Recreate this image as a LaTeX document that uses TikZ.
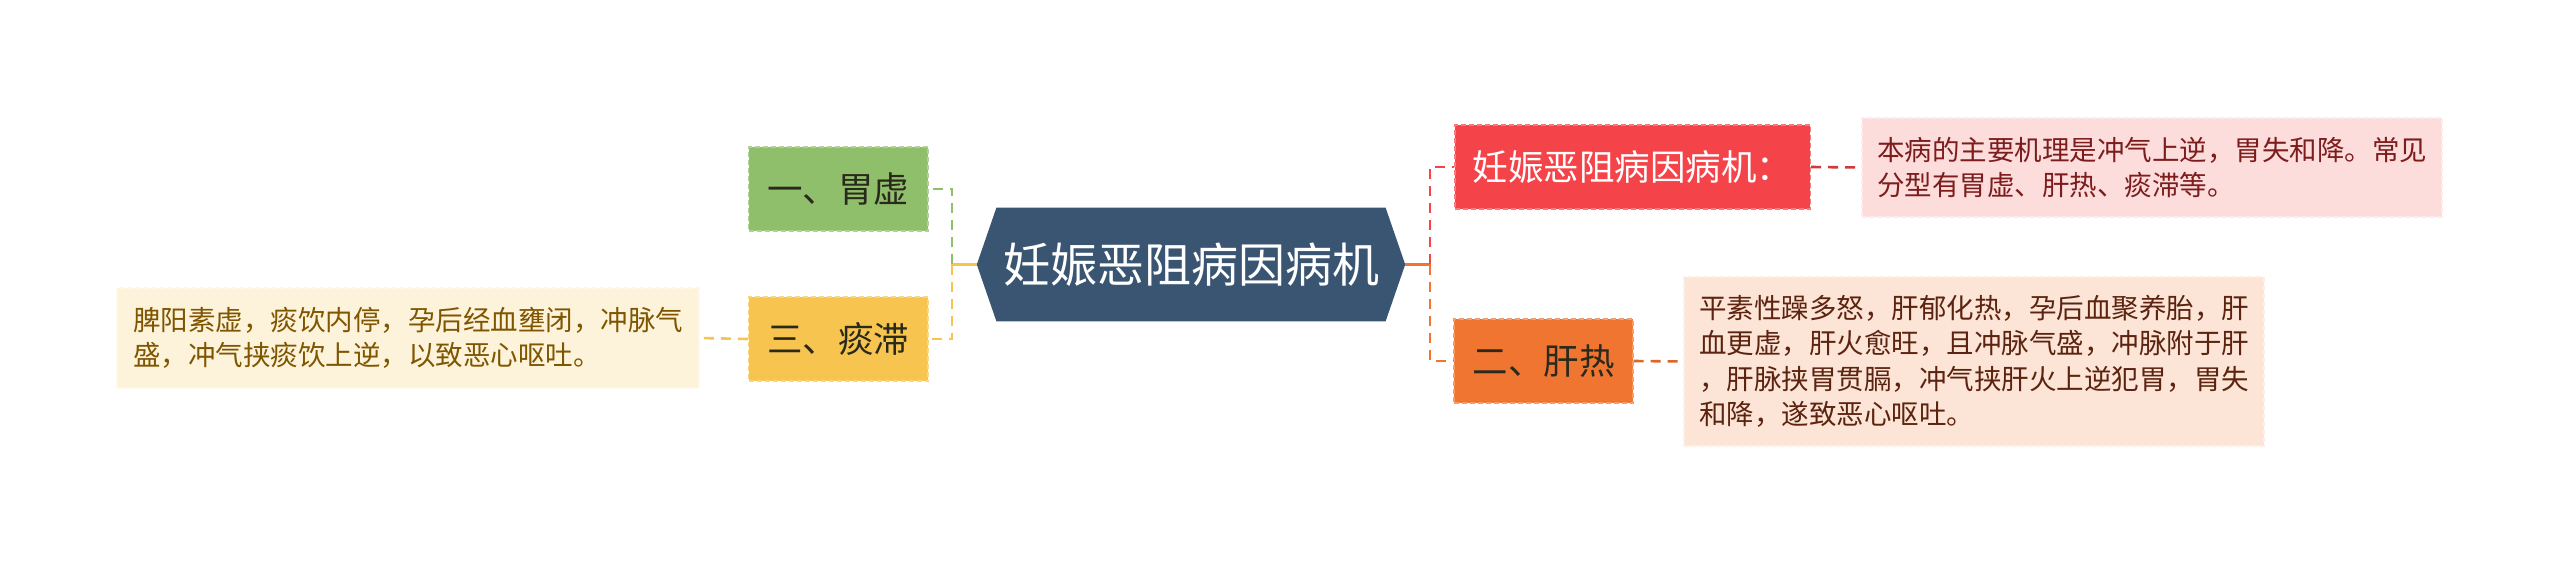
\documentclass[tikz,border=0pt]{standalone}
\usepackage{fontspec}
\newfontfamily\cjk{Noto Sans CJK SC}
\usetikzlibrary{backgrounds}
\definecolor{hexc}{HTML}{3A5572}
\definecolor{grn}{HTML}{90BF6B}
\definecolor{yel}{HTML}{F7C44F}
\definecolor{redc}{HTML}{F4444A}
\definecolor{orn}{HTML}{F07530}
\definecolor{pinkbg}{HTML}{FDDCDC}
\definecolor{peachbg}{HTML}{FCE4D6}
\definecolor{creambg}{HTML}{FDF3DB}
\definecolor{pinktx}{HTML}{7D1C1C}
\definecolor{peachtx}{HTML}{5C2410}
\definecolor{creamtx}{HTML}{7F5500}
\definecolor{darktx}{HTML}{2A2A1C}
\tikzset{
  lbl/.style={inner sep=0pt, minimum height=84pt, font=\cjk\fontsize{35.5}{40}\selectfont, dashed, line width=1.2pt, dash pattern=on 5pt off 3pt},
  note/.style={inner sep=0pt, align=left, font=\cjk\fontsize{27.5}{35.5}\selectfont, dashed, line width=1.2pt, dash pattern=on 5pt off 3pt},
  conn/.style={line width=2.6pt, dash pattern=on 10pt off 7pt},
  stub/.style={line width=3.5pt}
}
\begin{document}
\begin{tikzpicture}[x=1pt,y=-1pt]
\useasboundingbox (0,0) rectangle (2560,564);
% central
\node[inner sep=0pt, minimum width=428pt, minimum height=113.3pt, text=white, font=\cjk\fontsize{47}{52}\selectfont] (c) at (1191,264.5) {妊娠恶阻病因病机};
\begin{pgfonlayer}{background}
\fill[white] (0,0) rectangle (2560,564);
\fill[hexc] (c.west) -- ([xshift=19.6pt]c.north west) -- ([xshift=-19.6pt]c.north east) -- (c.east) -- ([xshift=-19.6pt]c.south east) -- ([xshift=19.6pt]c.south west) -- cycle;
\end{pgfonlayer}
% left labels
\node[lbl, fill=grn, draw=grn!70!white, minimum width=179.5pt, text=darktx] (g) at (838.3,189) {一、胃虚};
\node[lbl, fill=yel, draw=yel!70!white, minimum width=179.5pt, text=darktx] (y) at (838.3,339) {三、痰滞};
% right labels
\node[lbl, fill=redc, draw=redc!70!white, minimum width=355.5pt, text=white] (r) at (1632.7,167) {妊娠恶阻病因病机：};
\node[lbl, fill=orn, draw=orn!70!white, minimum width=179pt, text=darktx] (o) at (1543.5,361) {二、肝热};
% notes
\node[note, fill=pinkbg, draw=pinkbg!60!white, minimum width=580pt, minimum height=99pt, text=pinktx] (n1) at (2152,167.5) {本病的主要机理是冲气上逆，胃失和降。常见\\分型有胃虚、肝热、痰滞等。};
\node[note, fill=peachbg, draw=peachbg!60!white, minimum width=580pt, minimum height=169pt, text=peachtx] (n2) at (1974,361.5) {平素性躁多怒，肝郁化热，孕后血聚养胎，肝\\血更虚，肝火愈旺，且冲脉气盛，冲脉附于肝\\，肝脉挟胃贯膈，冲气挟肝火上逆犯胃，胃失\\和降，遂致恶心呕吐。};
\node[note, fill=creambg, draw=creambg!60!white, minimum width=582pt, minimum height=100pt, text=creamtx] (n3) at (408,338) {脾阳素虚，痰饮内停，孕后经血壅闭，冲脉气\\盛，冲气挟痰饮上逆，以致恶心呕吐。};
% connectors left
\coordinate (jl) at (952,264.5);
\draw[stub, yel] (c.west) -- (jl);
\draw[conn, grn] (jl) |- (g.east);
\draw[conn, yel] (jl) |- (y.east);
\draw[conn, yel] (y.west) -- (n3.east);
% connectors right
\coordinate (jr) at (1430,264.5);
\draw[stub, orn] (c.east) -- (jr);
\draw[conn, redc] (jr) |- (r.west);
\draw[conn, orn] (jr) |- (o.west);
\draw[conn, redc!85!black] (r.east) -- (n1.west);
\draw[conn, orn!90!black] (o.east) -- (n2.west);
\end{tikzpicture}
\end{document}
